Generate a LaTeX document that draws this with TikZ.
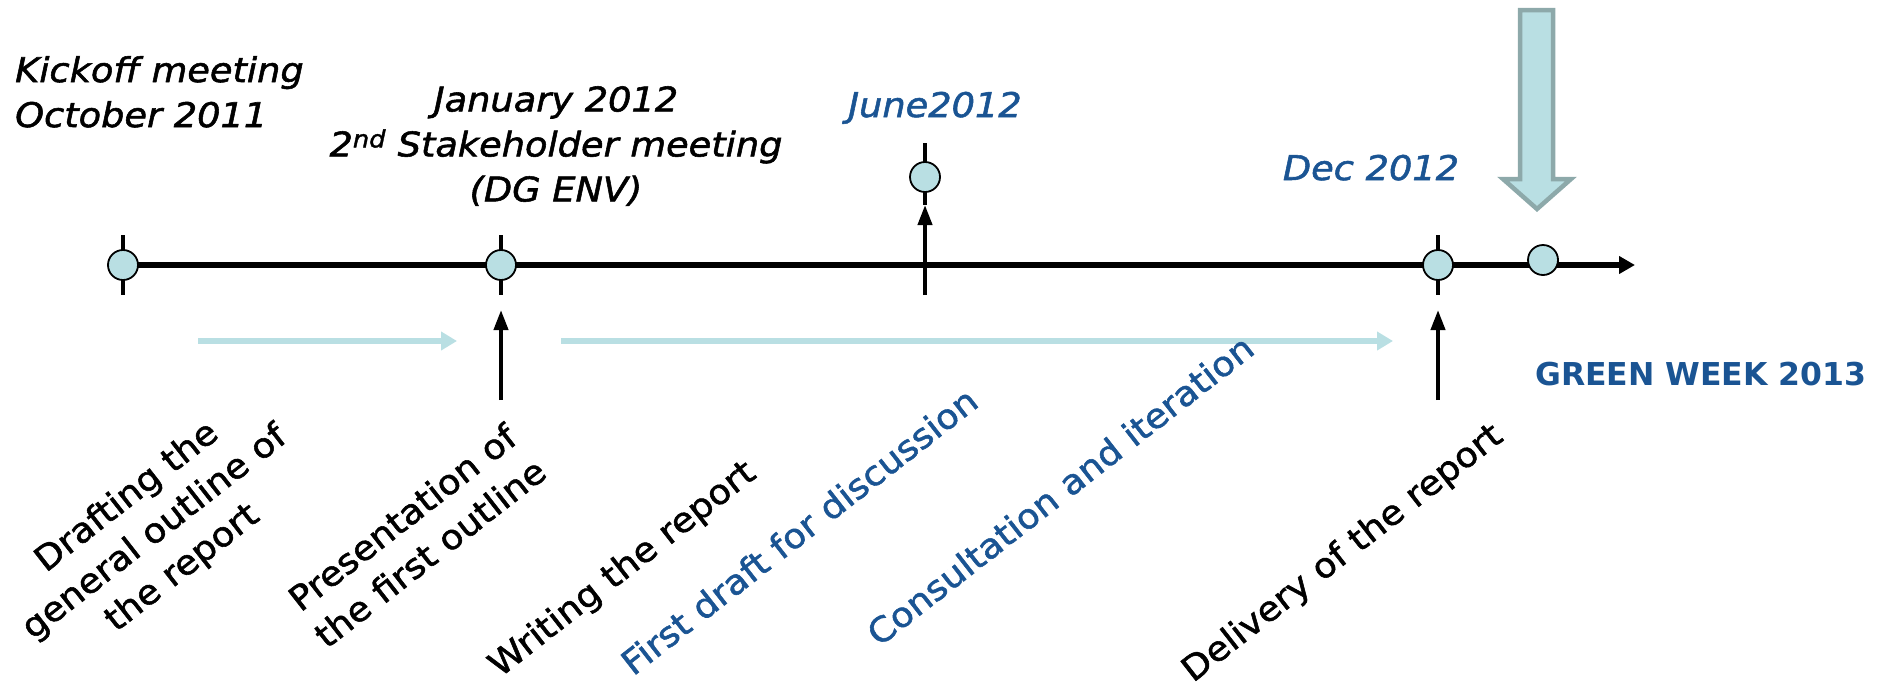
\documentclass[tikz,border=0pt]{standalone}
\usepackage{fontspec}
\setmainfont{DejaVu Sans}
\newfontfamily\comic[FakeStretch=1.08,FakeBold=1.6,ItalicFont={DejaVu Sans Oblique}]{DejaVu Sans}
\usetikzlibrary{arrows.meta}
\definecolor{dotfill}{HTML}{B9DFE3}
\definecolor{labblue}{HTML}{1A5493}
\definecolor{bigedge}{HTML}{8DA9AA}
\begin{document}
\begin{tikzpicture}[x=1pt,y=-1pt,
  dot/.style={circle,draw=black,line width=1.8pt,fill=dotfill,minimum size=30pt,inner sep=0pt},
  tickline/.style={line width=4.5pt},
  axisline/.style={line width=5.5pt,-{Triangle[length=16pt,width=17pt]}},
  uparrow/.style={line width=4pt,-{Triangle[length=20pt,width=14pt]}},
  flow/.style={draw=dotfill,line width=5.5pt,-{Triangle[length=16pt,width=18pt]}},
  toplab/.style={font=\comic\itshape\fontsize{34}{45}\selectfont,inner sep=0pt},
  rotlab/.style={font=\comic\fontsize{34}{45}\selectfont,inner sep=0pt,rotate=38,align=center},
]
\useasboundingbox (0,0) rectangle (1878,686);

% big arrow
\draw[draw=bigedge,fill=dotfill,line width=4.5pt,line join=miter]
  (1520,10) -- (1553,10) -- (1553,179) -- (1571,179) -- (1537,209) -- (1503,179) -- (1520,179) -- cycle;

% axis and ticks
\coordinate (axS) at (123,265);
\coordinate (axE) at (1635,265);
\draw[axisline] (axS) -- (axE);
\coordinate (t1a) at (123,235); \coordinate (t1b) at (123,295);
\coordinate (t2a) at (501,235); \coordinate (t2b) at (501,295);
\coordinate (t3a) at (1438,235); \coordinate (t3b) at (1438,295);
\draw[tickline] (t1a) -- (t1b);
\draw[tickline] (t2a) -- (t2b);
\draw[tickline] (t3a) -- (t3b);

% June marker
\coordinate (jTop) at (925,143);
\coordinate (jTip) at (925,205);
\coordinate (jBot) at (925,295);
\draw[tickline] (jTop) -- (jTip);
\draw[uparrow] (jBot) -- (jTip);

% circles
\node[dot] (c1) at (123,265) {};
\node[dot] (c2) at (501,265) {};
\node[dot] (cj) at (925,177) {};
\node[dot] (cd) at (1438,265) {};
\node[dot] (cg) at (1543,260) {};

% up arrows below axis
\coordinate (p2b) at (501,400); \coordinate (p2t) at (501,310);
\coordinate (p3b) at (1438,400); \coordinate (p3t) at (1438,310);
\draw[uparrow] (p2b) -- (p2t);
\draw[uparrow] (p3b) -- (p3t);

% light blue flow arrows
\coordinate (f1s) at (198,341); \coordinate (f1e) at (457,341);
\coordinate (f2s) at (561,341); \coordinate (f2e) at (1393,341);
\draw[flow] (f1s) -- (f1e);
\draw[flow] (f2s) -- (f2e);

% top labels
\node[toplab,anchor=north west,align=left] (kick) at (15,56) {Kickoff meeting\\October 2011};
\node[toplab,anchor=north,align=center] (jan) at (556,86) {January 2012\\2\textsuperscript{nd} Stakeholder meeting\\(DG ENV)};
\node[toplab,text=labblue,anchor=base] (june) at (935,117) {June2012};
\node[toplab,text=labblue,anchor=base] (dec) at (1371,180) {Dec 2012};
\node[font=\bfseries\fontsize{31.5}{36}\selectfont,text=labblue,anchor=base west,inner sep=0pt] (gw) at (1535,385) {GREEN WEEK 2013};

% rotated labels
\node[rotlab] (draft) at (155,533) {Drafting the\\general outline of\\the report};
\node[rotlab] (pres) at (416,535) {Presentation of\\the first outline};
\node[rotlab] (write) at (623,570) {Writing the report};
\node[rotlab,text=labblue] (first) at (799,531) {First draft for discussion};
\node[rotlab,text=labblue] (cons) at (1060,490) {Consultation and iteration};
\node[rotlab] (deliv) at (1343,554) {Delivery of the report};
\end{tikzpicture}
\end{document}
